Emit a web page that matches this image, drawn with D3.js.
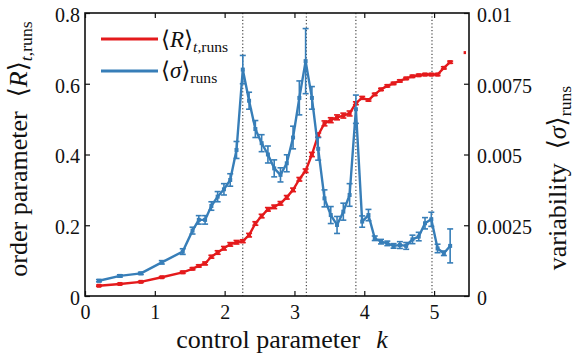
<!DOCTYPE html>
<html><head><meta charset="utf-8">
<script src="https://cdn.jsdelivr.net/npm/d3@7"></script>
<style>
body{margin:0;background:#fff}
text{font-family:"Liberation Serif","DejaVu Serif",serif;fill:#111}
</style>
</head><body><svg id="c" width="575" height="357"></svg>
<script>
// ---- data ----
const kValues = [0.2,0.5,0.8,1.1,1.4,1.54,1.63,1.72,1.81,1.9,1.99,2.08,2.17,2.26,2.35,2.44,2.53,2.62,2.71,2.8,2.89,2.98,3.07,3.16,3.25,3.34,3.43,3.52,3.61,3.7,3.79,3.88,3.97,4.06,4.15,4.24,4.33,4.42,4.51,4.6,4.69,4.78,4.87,4.96,5.05,5.14,5.23];
const orderParam = [0.029,0.034,0.040,0.053,0.067,0.077,0.085,0.092,0.111,0.123,0.135,0.146,0.152,0.155,0.172,0.205,0.226,0.245,0.252,0.262,0.279,0.300,0.330,0.354,0.400,0.455,0.488,0.497,0.505,0.510,0.516,0.545,0.560,0.554,0.570,0.584,0.594,0.601,0.608,0.615,0.621,0.624,0.626,0.626,0.626,0.645,0.661];
const orderErr = [0.002,0.002,0.002,0.002,0.003,0.003,0.003,0.004,0.004,0.005,0.005,0.005,0.005,0.004,0.005,0.005,0.005,0.005,0.005,0.005,0.005,0.005,0.005,0.005,0.006,0.006,0.007,0.007,0.007,0.007,0.007,0.004,0.004,0.003,0.003,0.003,0.003,0.003,0.003,0.003,0.003,0.003,0.003,0.003,0.003,0.003,0.003];
const isolatedK = [5.44];
const isolatedR = [0.688];
const variability = [0.00054,0.00071,0.00080,0.00119,0.00157,0.00231,0.00269,0.00269,0.00318,0.00351,0.00377,0.00410,0.00516,0.00800,0.00690,0.00590,0.00540,0.00500,0.00451,0.00428,0.00469,0.00560,0.00700,0.00830,0.00700,0.00520,0.00345,0.00286,0.00251,0.00298,0.00357,0.00660,0.00263,0.00286,0.00204,0.00192,0.00186,0.00177,0.00180,0.00177,0.00200,0.00210,0.00257,0.00271,0.00168,0.00151,0.00177];
const variabilityErr = [0.00004,0.00004,0.00004,0.00006,0.00010,0.00012,0.00015,0.00015,0.00015,0.00018,0.00020,0.00022,0.00030,0.00050,0.00030,0.00030,0.00030,0.00030,0.00030,0.00025,0.00030,0.00040,0.00060,0.00115,0.00040,0.00040,0.00030,0.00030,0.00030,0.00030,0.00040,0.00050,0.00020,0.00020,0.00008,0.00008,0.00008,0.00008,0.00012,0.00012,0.00015,0.00015,0.00020,0.00025,0.00015,0.00008,0.00060];
const peakLines = [2.26,3.17,3.88,4.97];
const xTicks = [0,1,2,3,4,5];
const leftTicks = [0,0.2,0.4,0.6,0.8];
const leftTickLabels = ["0","0.2","0.4","0.6","0.8"];
const rightTicks = [0,0.0025,0.005,0.0075,0.01];
const rightTickLabels = ["0","0.0025","0.005","0.0075","0.01"];
const seriesNames = ["R","σ"];
const colors = {red:"#e41a1c", blue:"#377eb8"};

// ---- layout ----
const svg = d3.select("#c");
const L=85,R=469,T=13,B=296;
const x = d3.scaleLinear().domain([0,5.5]).range([L,R]);
const yL = d3.scaleLinear().domain([0,0.8]).range([B,T]);
const yR = d3.scaleLinear().domain([0,0.01]).range([B,T]);

// peak dotted lines
svg.append("g").selectAll("line").data(peakLines).join("line")
  .attr("x1",d=>x(d)).attr("x2",d=>x(d)).attr("y1",T).attr("y2",B)
  .attr("stroke","#222").attr("stroke-width",1).attr("stroke-dasharray","1.2,2.2");

// axes
const axB = d3.axisBottom(x).tickValues(xTicks).tickSize(-5).tickPadding(9).tickFormat(d3.format("d"));
const axT = d3.axisTop(x).tickValues(xTicks).tickSize(-5).tickFormat("");
const axLeft = d3.axisLeft(yL).tickValues(leftTicks).tickSize(-5).tickPadding(5).tickFormat((d,i)=>leftTickLabels[i]);
const axRight = d3.axisRight(yR).tickValues(rightTicks).tickSize(-5).tickPadding(8).tickFormat((d,i)=>rightTickLabels[i]);
function style(g){g.select(".domain").attr("stroke","#111").attr("stroke-width",1.6);
  g.selectAll(".tick line").attr("stroke","#111").attr("stroke-width",1.2);
  g.selectAll(".tick text").attr("font-family","Liberation Serif, serif").attr("font-size",20).attr("fill","#111");}
svg.append("g").attr("transform",`translate(0,${B})`).call(axB).call(style);
svg.append("g").attr("transform",`translate(0,${T})`).call(axT).call(style);
svg.append("g").attr("transform",`translate(${L},0)`).call(axLeft).call(style).selectAll(".tick text").attr("dy","0.42em");
svg.append("g").attr("transform",`translate(${R},0)`).call(axRight).call(style).selectAll(".tick text").attr("dy","0.42em");
svg.selectAll(".domain").attr("d",null);
svg.append("rect").attr("x",L).attr("y",T).attr("width",R-L).attr("height",B-T)
  .attr("fill","none").attr("stroke","#111").attr("stroke-width",1.6);

// series
function drawSeries(xs, ys, es, yScale, color){
  const g = svg.append("g");
  const pts = xs.map((k,i)=>({k,v:ys[i],e:es[i]}));
  g.append("path").datum(pts).attr("fill","none").attr("stroke",color).attr("stroke-width",2.4)
    .attr("stroke-linejoin","round")
    .attr("d", d3.line().x(d=>x(d.k)).y(d=>yScale(d.v)));
  const eb = g.selectAll("g.eb").data(pts).join("g");
  eb.append("line").attr("x1",d=>x(d.k)).attr("x2",d=>x(d.k))
    .attr("y1",d=>yScale(d.v-d.e)).attr("y2",d=>yScale(d.v+d.e)).attr("stroke",color).attr("stroke-width",1.6);
  [-1,1].forEach(s=>eb.append("line").attr("x1",d=>x(d.k)-3).attr("x2",d=>x(d.k)+3)
    .attr("y1",d=>yScale(d.v+s*d.e)).attr("y2",d=>yScale(d.v+s*d.e)).attr("stroke",color).attr("stroke-width",1.6));
  eb.append("rect").attr("x",d=>x(d.k)-2).attr("y",d=>yScale(d.v)-2).attr("width",4).attr("height",4).attr("fill",color);
  return g;
}
drawSeries(kValues, orderParam, orderErr, yL, colors.red);
svg.append("g").selectAll("rect").data(isolatedK).join("rect")
  .attr("x",d=>x(d)-1.2).attr("y",(d,i)=>yL(isolatedR[i])-1.5).attr("width",2.4).attr("height",3).attr("fill",colors.red);
drawSeries(kValues, variability, variabilityErr, yR, colors.blue);

// math label helper
function mathLabel(sel, sym, sub, dx){
  sel.append("tspan").attr("dx",dx||null).text("⟨");
  sel.append("tspan").attr("font-style","italic").text(sym);
  sel.append("tspan").text("⟩");
  sub.forEach(s=>sel.append("tspan").attr("font-size","0.68em").attr("dy",s.dy||null)
    .attr("font-style",s.it?"italic":null).text(s.t));
}

// legend
const leg = svg.append("g");
leg.append("line").attr("x1",101).attr("x2",158).attr("y1",39).attr("y2",39).attr("stroke",colors.red).attr("stroke-width",3);
leg.append("line").attr("x1",101).attr("x2",158).attr("y1",71).attr("y2",71).attr("stroke",colors.blue).attr("stroke-width",3);
const t1 = leg.append("text").attr("x",161).attr("y",47).attr("font-size",23);
mathLabel(t1,seriesNames[0],[{t:"t",it:true,dy:"0.3em"},{t:",runs"}]);
const t2 = leg.append("text").attr("x",161).attr("y",78).attr("font-size",23);
mathLabel(t2,seriesNames[1],[{t:"runs",dy:"0.3em"}]);

// axis titles
const xl = svg.append("text").attr("x",282).attr("y",348).attr("text-anchor","middle").attr("font-size",26);
xl.append("tspan").text("control parameter");
xl.append("tspan").attr("dx",16).attr("font-style","italic").text("k");

const yl = svg.append("text").attr("transform","translate(27,149) rotate(-90)").attr("text-anchor","middle").attr("font-size",26);
yl.append("tspan").text("order parameter");
mathLabel(yl,seriesNames[0],[{t:"t",it:true,dy:"0.3em"},{t:",runs"}],14);

const yr = svg.append("text").attr("transform","translate(566,178) rotate(-90)").attr("text-anchor","middle").attr("font-size",26);
yr.append("tspan").text("variability");
mathLabel(yr,seriesNames[1],[{t:"runs",dy:"0.3em"}],14);
</script></body></html>
